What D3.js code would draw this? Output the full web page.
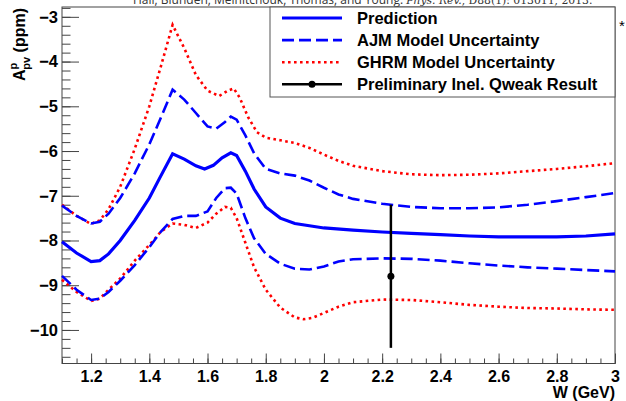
<!DOCTYPE html>
<html>
<head>
<meta charset="utf-8">
<script src="https://cdn.jsdelivr.net/npm/d3@7"></script>
<style>
  body { margin: 0; background: #fff; }
  svg { display: block; }
  text { font-family: "Liberation Sans", Arial, sans-serif; }
</style>
</head>
<body>
<script>
// ── data (W in GeV, A in ppm) ──────────────────────────────────────
const prediction = [
  [1.10,-8.03],[1.15,-8.28],[1.20,-8.47],[1.23,-8.45],[1.26,-8.30],[1.30,-8.00],
  [1.35,-7.55],[1.40,-7.05],[1.44,-6.55],[1.48,-6.06],[1.52,-6.18],[1.56,-6.33],
  [1.59,-6.40],[1.62,-6.32],[1.65,-6.15],[1.68,-6.04],[1.70,-6.10],[1.73,-6.45],
  [1.76,-6.85],[1.80,-7.25],[1.85,-7.50],[1.90,-7.62],[2.00,-7.72],[2.10,-7.77],
  [2.20,-7.81],[2.30,-7.84],[2.40,-7.87],[2.50,-7.90],[2.60,-7.92],[2.70,-7.92],
  [2.80,-7.92],[2.90,-7.90],[3.00,-7.85]
];
const ajmUpper = [
  [1.10,-7.22],[1.15,-7.45],[1.20,-7.62],[1.23,-7.58],[1.26,-7.40],[1.30,-7.05],
  [1.35,-6.50],[1.40,-5.85],[1.44,-5.25],[1.48,-4.63],[1.52,-4.85],[1.56,-5.15],
  [1.60,-5.45],[1.63,-5.50],[1.66,-5.35],[1.68,-5.23],[1.70,-5.30],[1.73,-5.65],
  [1.76,-6.05],[1.80,-6.40],[1.85,-6.50],[1.90,-6.55],[1.95,-6.66],[2.00,-6.82],
  [2.05,-6.97],[2.10,-7.07],[2.20,-7.18],[2.30,-7.25],[2.40,-7.28],[2.50,-7.28],
  [2.60,-7.26],[2.70,-7.20],[2.80,-7.12],[2.90,-7.03],[3.00,-6.94]
];
const ajmLower = [
  [1.10,-8.79],[1.15,-9.10],[1.20,-9.33],[1.23,-9.30],[1.26,-9.15],[1.30,-8.90],
  [1.35,-8.55],[1.40,-8.15],[1.44,-7.80],[1.48,-7.52],[1.52,-7.45],[1.56,-7.45],
  [1.60,-7.35],[1.63,-7.05],[1.66,-6.83],[1.68,-6.82],[1.70,-6.95],[1.73,-7.50],
  [1.76,-7.95],[1.80,-8.30],[1.85,-8.52],[1.90,-8.63],[1.95,-8.65],[2.00,-8.58],
  [2.05,-8.47],[2.10,-8.42],[2.20,-8.40],[2.30,-8.41],[2.40,-8.45],[2.50,-8.51],
  [2.60,-8.56],[2.70,-8.60],[2.80,-8.63],[2.90,-8.66],[3.00,-8.69]
];
const ghrmUpper = [
  [1.10,-7.20],[1.15,-7.45],[1.20,-7.63],[1.23,-7.55],[1.26,-7.30],[1.30,-6.80],
  [1.35,-5.95],[1.40,-5.00],[1.44,-4.10],[1.48,-3.18],[1.52,-3.70],[1.56,-4.30],
  [1.60,-4.65],[1.64,-4.77],[1.67,-4.65],[1.69,-4.60],[1.71,-4.80],[1.74,-5.25],
  [1.77,-5.58],[1.80,-5.70],[1.85,-5.76],[1.90,-5.82],[1.95,-5.93],[2.00,-6.08],
  [2.05,-6.22],[2.10,-6.33],[2.20,-6.45],[2.30,-6.52],[2.40,-6.54],[2.50,-6.53],
  [2.60,-6.50],[2.70,-6.45],[2.80,-6.40],[2.90,-6.34],[3.00,-6.27]
];
const ghrmLower = [
  [1.10,-8.88],[1.15,-9.15],[1.20,-9.35],[1.23,-9.30],[1.26,-9.10],[1.30,-8.85],
  [1.35,-8.45],[1.40,-8.10],[1.44,-7.80],[1.48,-7.62],[1.52,-7.65],[1.56,-7.72],
  [1.60,-7.60],[1.63,-7.40],[1.66,-7.25],[1.68,-7.27],[1.70,-7.50],[1.73,-8.05],
  [1.76,-8.60],[1.80,-9.10],[1.85,-9.50],[1.90,-9.72],[1.93,-9.76],[1.96,-9.73],
  [2.00,-9.62],[2.05,-9.48],[2.10,-9.38],[2.20,-9.32],[2.30,-9.33],[2.40,-9.38],
  [2.50,-9.44],[2.60,-9.48],[2.70,-9.51],[2.80,-9.52],[2.90,-9.54],[3.00,-9.55]
];
const qweak = [{ w: 2.23, a: -8.8, err: 1.6 }];

const legendLabels = ['Prediction', 'AJM Model Uncertainty', 'GHRM Model Uncertainty', 'Preliminary Inel. Qweak Result'];
const xTicks = [1.2, 1.4, 1.6, 1.8, 2.0, 2.2, 2.4, 2.6, 2.8, 3.0];
const yTicks = [-3, -4, -5, -6, -7, -8, -9, -10];

// ── layout ─────────────────────────────────────────────────────────
const W = 626, H = 401;
const frame = { left: 62, right: 615, top: 7, bottom: 363.5 };

const svg = d3.select('body').append('svg').attr('width', W).attr('height', H);

const x = d3.scaleLinear().domain([1.1, 3.0]).range([frame.left, frame.right]);
const y = d3.scaleLinear().domain([-10.75, -2.78]).range([frame.bottom, frame.top]);

// citation header, cut at the top edge; fitted to its width in the reference
const cite = svg.append('text').attr('x', 133).attr('y', 4).attr('fill', '#333');
const citeSans = cite.append('tspan').attr('font-family', '"Open Sans", sans-serif')
  .text('Hall, Blunden, Melnitchouk, Thomas, and Young. ');
const citeIt = cite.append('tspan').attr('font-family', '"DejaVu Serif", serif').attr('font-style', 'italic')
  .text('Phys. Rev.');
const citeSerif = cite.append('tspan').attr('font-family', '"DejaVu Serif", serif')
  .text(', D88(1): 013011, 2013.');
function setCite(fs) {
  citeSans.attr('font-size', fs);
  citeIt.attr('font-size', fs * 0.9);
  citeSerif.attr('font-size', fs * 0.9);
}
setCite(14);
const citeLen = cite.node().getComputedTextLength();
setCite(14 * 460 / citeLen);

svg.append('text').attr('x', 622).attr('y', 31).attr('text-anchor', 'middle')
  .attr('font-size', 15).attr('font-family', '"DejaVu Sans", sans-serif').text('*');

// frame
svg.append('rect')
  .attr('x', frame.left).attr('y', frame.top)
  .attr('width', frame.right - frame.left).attr('height', frame.bottom - frame.top)
  .attr('fill', 'none').attr('stroke', '#444').attr('stroke-width', 1);

// ── axes (ticks inside the frame, ROOT style) ─────────────────────
const xMinor = d3.range(1.1, 3.0001, 0.05).map(v => +v.toFixed(2));
svg.append('g').attr('transform', `translate(0,${frame.bottom})`)
  .call(d3.axisBottom(x).tickValues(xMinor).tickSize(-5).tickFormat(''))
  .call(g => g.select('.domain').remove())
  .selectAll('line').attr('stroke', '#444');
svg.append('g').attr('transform', `translate(0,${frame.bottom})`)
  .call(d3.axisBottom(x).tickValues(xTicks).tickSize(-10).tickPadding(7)
    .tickFormat(d => d3.format('~g')(d)))
  .call(g => g.select('.domain').remove())
  .call(g => g.selectAll('line').attr('stroke', '#444'))
  .call(g => g.selectAll('text').attr('font-size', 16).attr('font-weight', 'bold')
    .attr('fill', '#000').attr('font-family', '"Liberation Sans", Arial, sans-serif'));

const yMinor = d3.range(-10.6, -2.79, 0.2).map(v => +v.toFixed(1));
svg.append('g').attr('transform', `translate(${frame.left},0)`)
  .call(d3.axisLeft(y).tickValues(yMinor).tickSize(-8.5).tickFormat(''))
  .call(g => g.select('.domain').remove())
  .selectAll('line').attr('stroke', '#444');
svg.append('g').attr('transform', `translate(${frame.left},0)`)
  .call(d3.axisLeft(y).tickValues(yTicks).tickSize(-17).tickPadding(4)
    .tickFormat(d => '\u2212' + Math.abs(d)))
  .call(g => g.select('.domain').remove())
  .call(g => g.selectAll('line').attr('stroke', '#444'))
  .call(g => g.selectAll('text').attr('font-size', 16.5).attr('font-weight', 'bold')
    .attr('fill', '#000').attr('font-family', '"Liberation Sans", Arial, sans-serif'));

// axis titles
svg.append('text').attr('x', frame.right).attr('y', 398).attr('text-anchor', 'end')
  .attr('font-size', 16).attr('font-weight', 'bold').text('W (GeV)');

const yTitle = svg.append('text').attr('transform', 'translate(25,8) rotate(-90)')
  .attr('text-anchor', 'end').attr('font-size', 16).attr('font-weight', 'bold');
yTitle.append('tspan').text('A');
yTitle.append('tspan').attr('font-size', 11).attr('dy', -8).text('p');
yTitle.append('tspan').attr('font-size', 11).attr('dx', -7).attr('dy', 13).text('pv');
yTitle.append('tspan').attr('dy', -5).text(' (ppm)');

// ── curves ─────────────────────────────────────────────────────────
const line = d3.line().x(d => x(d[0])).y(d => y(d[1]));
const plot = svg.append('g');

const styles = {
  solid:  { stroke: '#0000ff', width: 3.2, dash: null },
  dashed: { stroke: '#0000ff', width: 2.6, dash: '12,5' },
  dotted: { stroke: '#ff0000', width: 2.6, dash: '2.6,3.4' },
};

[[ghrmUpper, 'dotted'], [ghrmLower, 'dotted'], [ajmUpper, 'dashed'], [ajmLower, 'dashed'], [prediction, 'solid']]
  .forEach(([data, s]) => {
    plot.append('path').datum(data)
      .attr('d', line)
      .attr('fill', 'none')
      .attr('stroke', styles[s].stroke)
      .attr('stroke-width', styles[s].width)
      .attr('stroke-dasharray', styles[s].dash);
  });

// Qweak point with error bar
const pt = plot.selectAll('.qweak').data(qweak).join('g').attr('class', 'qweak');
pt.append('line')
  .attr('x1', d => x(d.w)).attr('x2', d => x(d.w))
  .attr('y1', d => y(d.a + d.err)).attr('y2', d => y(d.a - d.err))
  .attr('stroke', '#000').attr('stroke-width', 2.5);
pt.append('circle').attr('cx', d => x(d.w)).attr('cy', d => y(d.a)).attr('r', 3.5).attr('fill', '#000');

// ── legend ─────────────────────────────────────────────────────────
const lg = svg.append('g');
lg.append('rect').attr('x', 270).attr('y', frame.top).attr('width', frame.right - 270).attr('height', 90)
  .attr('fill', '#fff').attr('stroke', '#555').attr('stroke-width', 1);
const legendStyles = ['solid', 'dashed', 'dotted', 'point'];
legendLabels.forEach((label, i) => {
  const cy = 18 + i * 22.1;
  const s = legendStyles[i];
  if (s === 'point') {
    lg.append('line').attr('x1', 282).attr('x2', 342).attr('y1', cy).attr('y2', cy)
      .attr('stroke', '#000').attr('stroke-width', 2.5);
    lg.append('circle').attr('cx', 312).attr('cy', cy).attr('r', 3.5).attr('fill', '#000');
  } else {
    lg.append('line').attr('x1', 282).attr('x2', 342).attr('y1', cy).attr('y2', cy)
      .attr('stroke', styles[s].stroke).attr('stroke-width', styles[s].width)
      .attr('stroke-dasharray', styles[s].dash);
  }
  lg.append('text').attr('x', 357).attr('y', cy).attr('dy', '0.36em')
    .attr('font-size', 16.5).attr('font-weight', 'bold').text(label);
});
</script>
</body>
</html>
